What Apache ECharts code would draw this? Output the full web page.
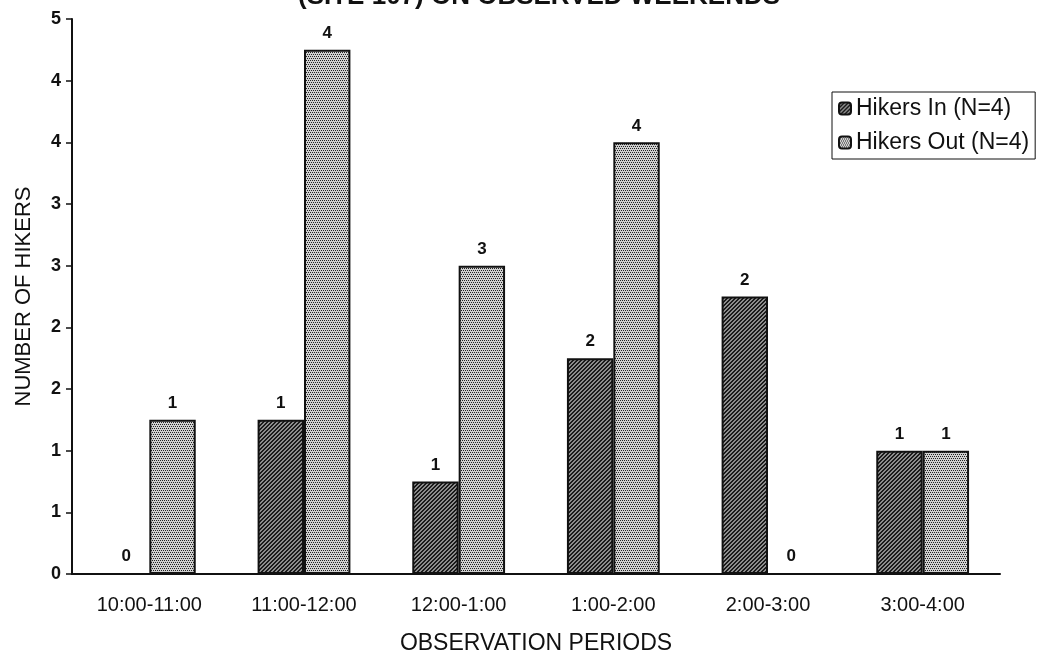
<!DOCTYPE html>
<html>
<head>
    <meta charset="utf-8">
    <script src="https://cdn.jsdelivr.net/npm/echarts@6/dist/echarts.min.js"></script>
</head>
<body>
    <style>
        html,
        body {
            width: 100%;
            height: 100%;
            margin: 0;
            background: #fff;
        }
    </style>
    <div id="main" style="width: 1042px;height:656px;"></div>
    <script>
        var periods = ['10:00-11:00', '11:00-12:00', '12:00-1:00', '1:00-2:00', '2:00-3:00', '3:00-4:00'];
        var hikersIn = [0, 1.25, 0.75, 1.75, 2.25, 1.0];
        var hikersOut = [1.25, 4.25, 2.5, 3.5, 0, 1.0];
        var yTicks = { min: 0, max: 4.5, interval: 0.5 };

        var font = '"Liberation Sans", Arial, sans-serif';

        // scanned-print style fills
        function makePattern(kind) {
            var c = document.createElement('canvas');
            c.width = 4;
            c.height = 4;
            var g = c.getContext('2d');
            for (var x = 0; x < 4; x++) {
                for (var y = 0; y < 4; y++) {
                    var dark;
                    if (kind === 'hatch') {
                        dark = ((x + y) % 4) < 2;
                        g.fillStyle = dark ? '#1a1a1a' : '#8c8c8c';
                    } else {
                        dark = (y === 0 && (x === 0 || x === 2)) || (y === 2 && (x === 1 || x === 3));
                        g.fillStyle = dark ? '#222' : '#d0d0d0';
                    }
                    g.fillRect(x, y, 1, 1);
                }
            }
            return { image: c, repeat: 'repeat' };
        }

        var chart = echarts.init(document.getElementById('main'));

        var barLabel = {
            show: true,
            position: 'top',
            distance: 8,
            fontFamily: font,
            fontWeight: 'bold',
            fontSize: 17,
            color: '#111',
            formatter: function (p) { return Math.round(p.value); }
        };

        var option = {
            animation: false,
            backgroundColor: '#fff',
            title: {
                text: '(SITE 107) ON OBSERVED WEEKENDS',
                left: 293,
                top: -21,
                textStyle: { fontFamily: font, fontWeight: 'bold', fontSize: 26, color: '#111' }
            },
            legend: {
                orient: 'vertical',
                left: 832,
                top: 92,
                padding: [5, 6, 5, 6],
                borderColor: '#111',
                borderWidth: 1,
                itemWidth: 12,
                itemHeight: 12,
                itemGap: 11,
                textStyle: { fontFamily: font, fontSize: 23, color: '#111' }
            },
            grid: { left: 72, right: 42, top: 19, bottom: 82, outerBoundsMode: 'none' },
            xAxis: {
                type: 'category',
                data: periods,
                name: 'OBSERVATION PERIODS',
                nameLocation: 'middle',
                nameGap: 58,
                nameTextStyle: { fontFamily: font, fontSize: 23, color: '#111' },
                axisLine: { lineStyle: { color: '#111', width: 2 } },
                axisTick: { length: 6, lineStyle: { color: '#111', width: 1.5 } },
                axisLabel: { margin: 21, fontFamily: font, fontSize: 20, color: '#111' }
            },
            yAxis: {
                type: 'value',
                min: yTicks.min,
                max: yTicks.max,
                interval: yTicks.interval,
                name: 'NUMBER OF HIKERS',
                nameLocation: 'middle',
                nameGap: 37,
                nameTextStyle: { fontFamily: font, fontSize: 22, color: '#111' },
                axisLine: { show: true, lineStyle: { color: '#111', width: 2 } },
                axisTick: { show: true, length: 6, lineStyle: { color: '#111', width: 1.5 } },
                splitLine: { show: false },
                axisLabel: {
                    margin: 11,
                    fontFamily: font,
                    fontWeight: 'bold',
                    fontSize: 18,
                    color: '#111',
                    formatter: function (v) { return Math.round(v); }
                }
            },
            series: [
                {
                    name: 'Hikers In (N=4)',
                    type: 'bar',
                    data: hikersIn,
                    barGap: 0,
                    barCategoryGap: '40%',
                    itemStyle: { color: makePattern('hatch'), borderColor: '#111', borderWidth: 2 },
                    label: barLabel
                },
                {
                    name: 'Hikers Out (N=4)',
                    type: 'bar',
                    data: hikersOut,
                    barGap: 0,
                    barCategoryGap: '40%',
                    itemStyle: { color: makePattern('dots'), borderColor: '#111', borderWidth: 2 },
                    label: barLabel
                }
            ]
        };
        chart.setOption(option);
    </script>
</body>
</html>
